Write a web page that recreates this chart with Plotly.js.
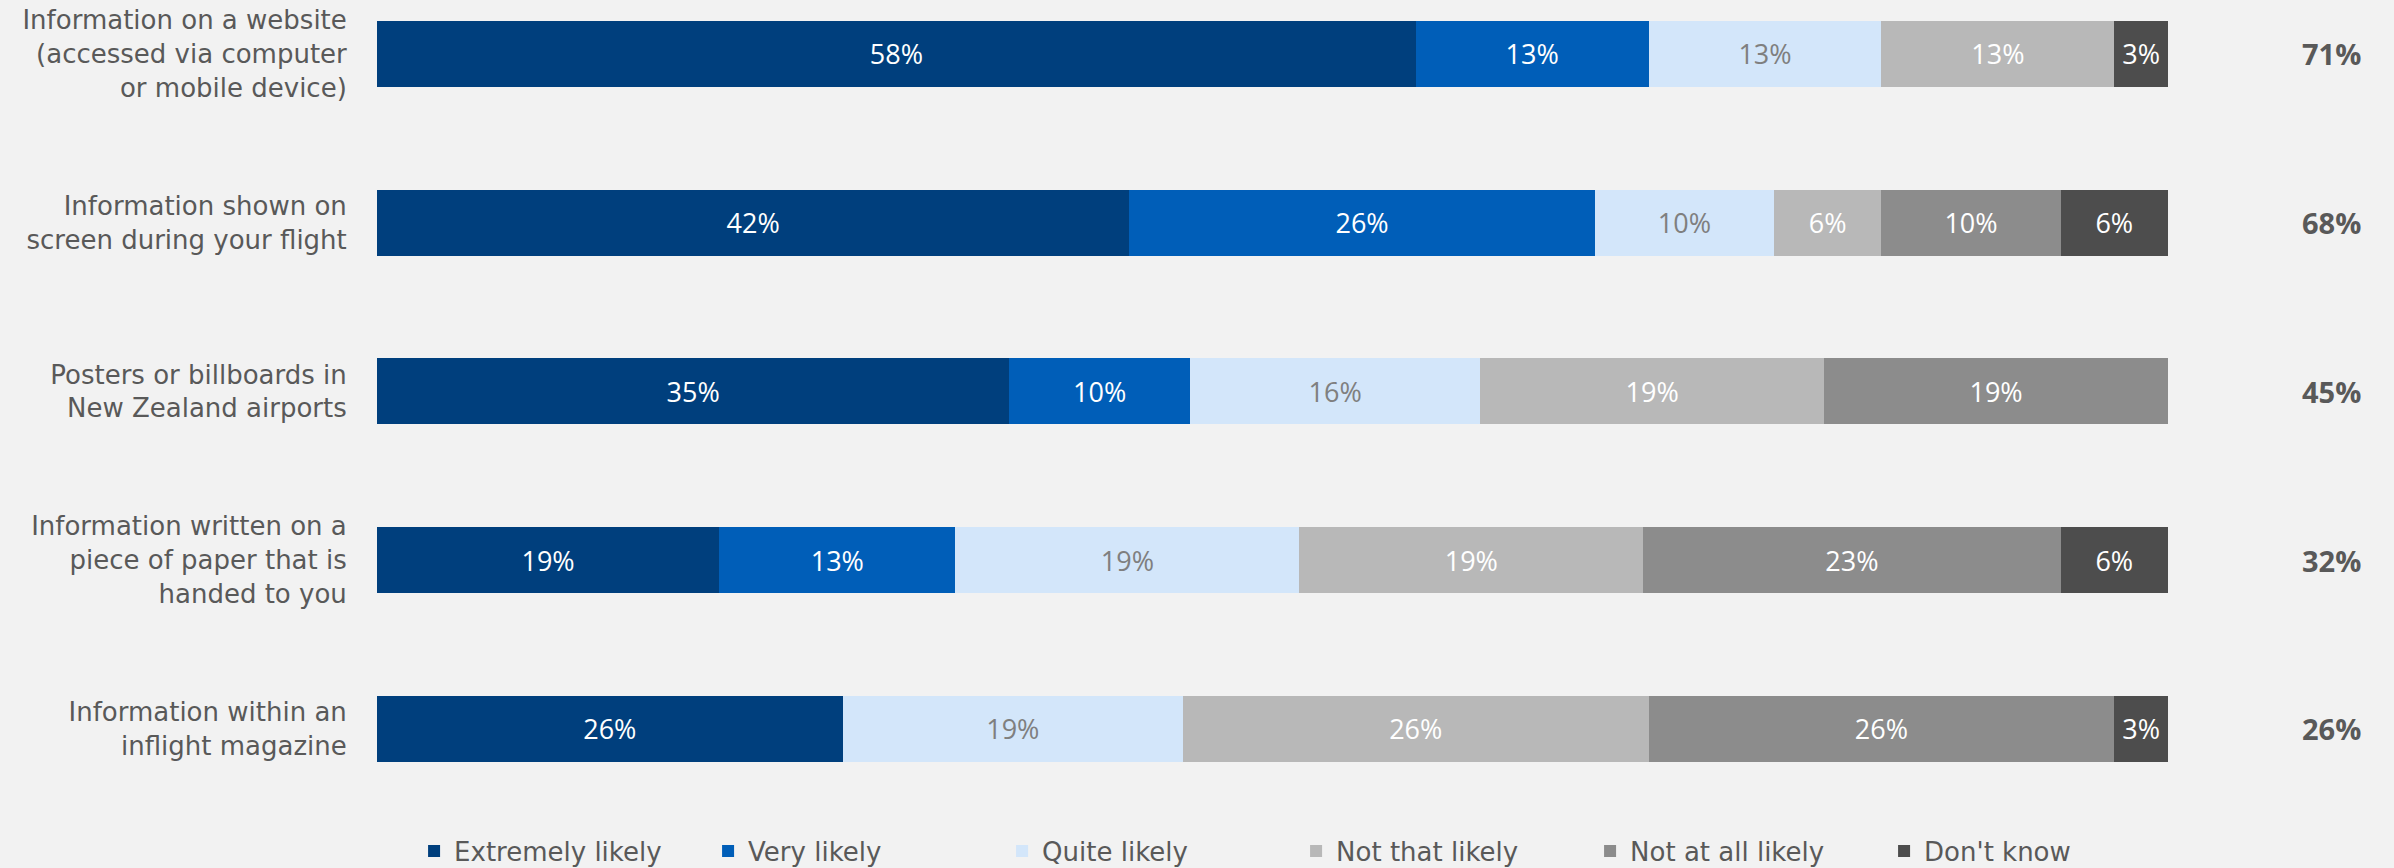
<!DOCTYPE html>
<html>
<head>
<meta charset="utf-8">
<script src="https://cdn.plot.ly/plotly-3.0.1.min.js"></script>
<style>
html,body{margin:0;padding:0;background:#f2f2f2;}
#chart{width:2394px;height:868px;}
</style>
</head>
<body>
<div id="chart"></div>
<script>
const categories = [
  "Information on a website<br>(accessed via computer<br>or mobile device)",
  "Information shown on<br>screen during your flight",
  "Posters or billboards in<br>New Zealand airports",
  "Information written on a<br>piece of paper that is<br>handed to you",
  "Information within an<br>inflight magazine"
];
const seriesNames = ["Extremely likely", "Very likely", "Quite likely", "Not that likely", "Not at all likely", "Don't know"];
const extremelyLikely = [58, 42, 35.3, 19.1, 26];
const veryLikely      = [13, 26, 10.1, 13.2, 0];
const quiteLikely     = [13, 10, 16.2, 19.2, 19];
const notThatLikely   = [13, 6, 19.2, 19.2, 26];
const notAtAllLikely  = [0, 10, 19.2, 23.3, 26];
const dontKnow        = [3, 6, 0, 6, 3];
const totals = ["71%", "68%", "45%", "32%", "26%"];

const seriesValues = [extremelyLikely, veryLikely, quiteLikely, notThatLikely, notAtAllLikely, dontKnow];
const colors = ["#003f7d", "#005eb8", "#d3e6fa", "#b8b8b8", "#8c8c8c", "#4d4d4d"];
const textColors = ["#ffffff", "#ffffff", "#7f7f7f", "#ffffff", "#ffffff", "#ffffff"];
const FONT = "'Open Sans', sans-serif";
const WIDE = "'DejaVu Sans', 'Open Sans', sans-serif";

const traces = seriesValues.map((vals, i) => ({
  type: "bar",
  orientation: "h",
  name: seriesNames[i],
  y: categories,
  x: vals,
  width: 0.39,
  text: vals.map(v => v > 0 ? Math.round(v) + "%" : ""),
  textposition: "inside",
  insidetextanchor: "middle",
  textangle: 0,
  constraintext: "none",
  textfont: {family: FONT, size: 27, color: textColors[i]},
  marker: {color: colors[i], line: {width: 0}},
  hoverinfo: "skip"
}));

const annotations = totals.map((t, i) => ({
  x: 1.0915, y: categories[i], xref: "paper", yref: "y",
  text: "<b>" + t + "</b>", showarrow: false,
  font: {family: FONT, size: 29, color: "#595959"},
  xanchor: "center", yanchor: "middle"
}));

const layout = {
  width: 2394, height: 868,
  barmode: "stack",
  paper_bgcolor: "#f2f2f2",
  plot_bgcolor: "#f2f2f2",
  margin: {l: 377, r: 226, t: 10, b: 40},
  font: {family: FONT, color: "#595959"},
  xaxis: {range: [0, 100], showgrid: false, zeroline: false, showticklabels: false, showline: false, fixedrange: true},
  yaxis: {
    range: [4.585, -0.2607],
    showgrid: false, zeroline: false, showline: false,
    ticks: "outside", ticklen: 24, tickcolor: "rgba(0,0,0,0)",
    tickfont: {family: WIDE, size: 26, color: "#595959"}
  },
  showlegend: true,
  legend: {
    orientation: "h", x: 0.0207, xanchor: "left",
    yref: "container", y: 0.0196, yanchor: "middle",
    font: {family: WIDE, size: 26, color: "#595959"},
    traceorder: "normal", bgcolor: "rgba(0,0,0,0)",
    itemwidth: 30, entrywidth: 249, entrywidthmode: "pixels"
  },
  annotations: annotations
};

Plotly.newPlot("chart", traces, layout, {displayModeBar: false, staticPlot: true});
</script>
</body>
</html>
